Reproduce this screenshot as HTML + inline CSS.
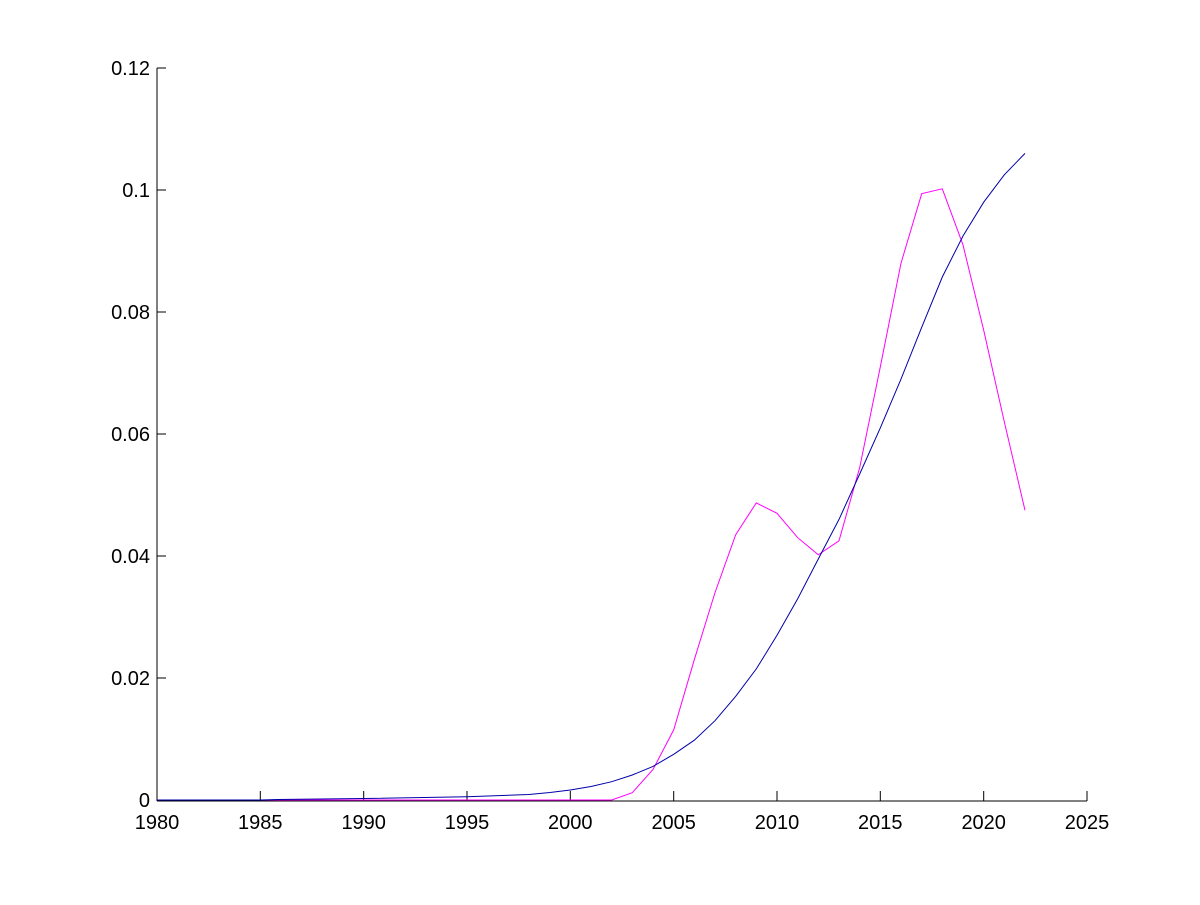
<!DOCTYPE html>
<html><head><style>
html,body{margin:0;padding:0;background:#fff;}
svg text{font-family:"Liberation Sans",Arial,sans-serif;font-size:20px;fill:#000;}
</style></head><body>
<svg width="1200" height="900" viewBox="0 0 1200 900" xmlns="http://www.w3.org/2000/svg">
<rect width="1200" height="900" fill="#fff"/>
<g stroke="#000" stroke-width="1" fill="none">
<line x1="157" y1="68" x2="157" y2="801"/>
<line x1="157" y1="801" x2="1087" y2="801"/>
<path d="M157 68h9M157 190h9M157 312h9M157 434h9M157 556h9M157 678h9"/>
<path d="M260.3 801v-10M363.7 801v-10M467 801v-10M570.3 801v-10M673.7 801v-10M777 801v-10M880.3 801v-10M983.7 801v-10M1087 801v-10"/>
</g>
<g text-anchor="end">
<text x="150" y="807">0</text>
<text x="150" y="685">0.02</text>
<text x="150" y="563">0.04</text>
<text x="150" y="441">0.06</text>
<text x="150" y="319">0.08</text>
<text x="150" y="197">0.1</text>
<text x="150" y="75">0.12</text>
</g>
<g text-anchor="middle">
<text x="157" y="829">1980</text>
<text x="260.3" y="829">1985</text>
<text x="363.7" y="829">1990</text>
<text x="467" y="829">1995</text>
<text x="570.3" y="829">2000</text>
<text x="673.7" y="829">2005</text>
<text x="777" y="829">2010</text>
<text x="880.3" y="829">2015</text>
<text x="983.7" y="829">2020</text>
<text x="1087" y="829">2025</text>
</g>
<polyline fill="none" stroke="#ff00ff" stroke-width="1" points="157,800 611.7,800 632.3,792.7 653,769.5 673.7,729.9 694.3,659.7 715,592.6 735.7,534.7 756.3,502.9 777,513.3 797.7,537.7 818.3,554.8 839,540.8 859.7,467.5 880.3,366.9 901,263.2 921.7,193.7 942.3,188.8 963,244.9 983.7,330.3 1004.3,421.8 1025,510.3"/>
<polyline fill="none" stroke="#0000aa" stroke-width="1" points="157,800 260.3,800 278,799.5 363.7,798.5 467,796.8 529,794.5 550,792.5 570.3,790 591,786.5 611.7,781.7 632.3,775 653,766.4 673.7,754.3 694.3,740.2 715,720.7 735.7,696.3 756.3,668.9 777,635.3 797.7,598.7 818.3,559 839,519.4 859.7,474 880.3,427.9 901,379.1 921.7,327.3 942.3,277 963,236 983.7,202.2 1004.3,174.8 1025,153.4"/>
</svg>
</body></html>
